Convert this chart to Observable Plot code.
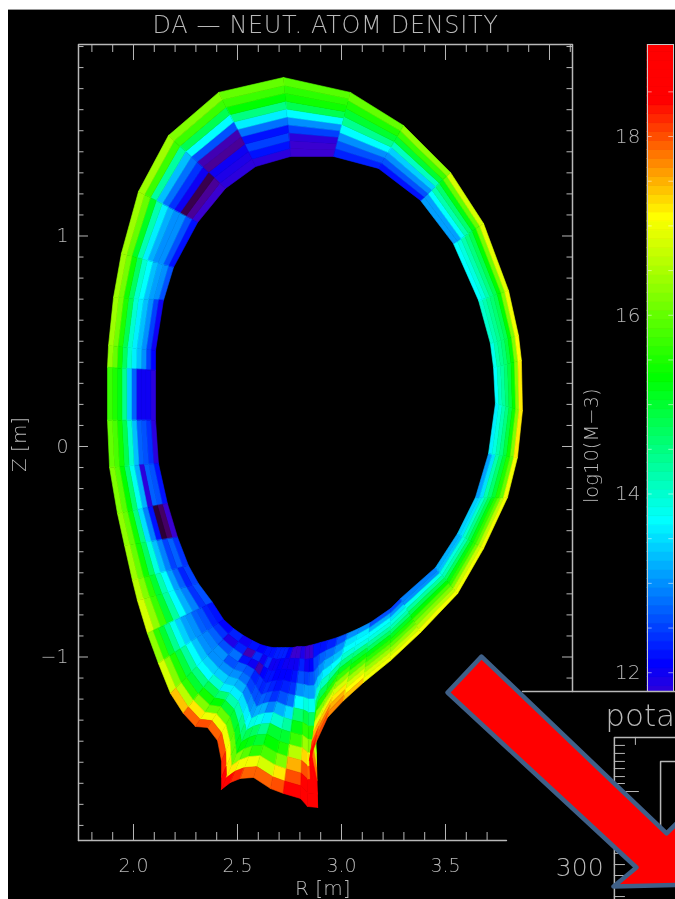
<!DOCTYPE html>
<html><head><meta charset="utf-8">
<script src="https://cdn.jsdelivr.net/npm/d3@7"></script>
<script src="https://cdn.jsdelivr.net/npm/@observablehq/plot@0.6"></script>
<style>
html,body{margin:0;padding:0;background:#fff;width:675px;height:899px;overflow:hidden}
#panel{position:absolute;left:8px;top:9px;width:667px;height:890px;background:#000;border-top:1px solid #999;box-sizing:border-box}
#bar,#main{position:absolute;top:0;left:0}
svg{will-change:transform}
svg text{font-weight:200}
</style></head><body>
<div id="panel"></div><div id="bar"></div><div id="main"></div>
<script>
const title = "DA — NEUT. ATOM DENSITY";
// mesh spokes, plasma side and wall side
const innerR = [2.962,2.755,2.587,2.442,2.308,2.192,2.144,2.106,2.106,2.106,2.120,2.163,2.212,2.264,2.312,2.380,2.433,2.481,2.529,2.572,2.611,2.644,2.668,2.692,2.712,2.731,2.750,2.769,2.788,2.808,2.827,2.846,2.865,2.899,2.933,2.981,3.029,3.082,3.139,3.236,3.284,3.452,3.558,3.644,3.707,3.740,3.731,3.716,3.659,3.538,3.380,3.178];
const innerZ = [1.378,1.378,1.330,1.226,1.064,0.850,0.694,0.456,0.361,0.124,-0.081,-0.271,-0.432,-0.565,-0.651,-0.741,-0.822,-0.865,-0.898,-0.922,-0.941,-0.950,-0.955,-0.955,-0.955,-0.955,-0.955,-0.955,-0.950,-0.950,-0.950,-0.945,-0.941,-0.931,-0.922,-0.907,-0.888,-0.865,-0.836,-0.770,-0.722,-0.575,-0.413,-0.242,-0.033,0.204,0.375,0.489,0.694,0.964,1.169,1.321];
const outerR = [3.043,2.721,2.409,2.168,2.024,1.942,1.904,1.880,1.875,1.875,1.885,1.923,1.957,1.995,2.019,2.067,2.120,2.178,2.240,2.298,2.356,2.404,2.423,2.423,2.423,2.466,2.514,2.577,2.659,2.721,2.803,2.837,2.885,2.851,2.846,2.875,2.933,3.010,3.106,3.236,3.380,3.558,3.683,3.798,3.846,3.870,3.865,3.851,3.803,3.683,3.524,3.298];
const outerZ = [1.682,1.753,1.682,1.477,1.211,0.917,0.708,0.480,0.375,0.124,-0.100,-0.318,-0.470,-0.637,-0.732,-0.888,-1.031,-1.173,-1.268,-1.330,-1.335,-1.397,-1.492,-1.572,-1.629,-1.596,-1.577,-1.572,-1.625,-1.648,-1.672,-1.710,-1.715,-1.587,-1.492,-1.411,-1.287,-1.207,-1.121,-1.017,-0.884,-0.699,-0.485,-0.242,-0.052,0.171,0.409,0.527,0.741,1.059,1.302,1.525];
// log10 density per mesh cell, one row per sector, plasma side first
const density = [
[11.7,11.7,11.8,12.5,13,13.7,14.8,15.4,15.6,15.9],
[11.8,12.2,12.5,12.2,12.8,13.6,14.5,15.3,15.7,16],
[11.8,11.9,12,11.5,11.6,12.6,13.7,14.8,15.7,16.2],
[11.7,11.5,11.2,12,12.4,12.8,13.3,14.3,15.7,16.4],
[12.2,12.6,13,13,13.2,13.6,14.2,15.1,16,16.4],
[12.6,13,13.1,13.3,13.7,14,14.7,15.4,16.1,16.4],
[12,12.5,13,13.3,13.6,14,14.8,15.5,16.1,16.4],
[12.1,12.5,13,13.3,13.6,14,14.7,15.4,16,16.3],
[11.8,12,12,12,12.7,13.4,14.4,15.2,15.5,15.7],
[11.8,12.4,12.6,12.7,13.3,14,14.8,15.4,15.8,16],
[12.2,12.6,12.7,11.8,13.2,13.8,14.6,15.3,15.9,16.2],
[11.7,11.3,11.1,12.2,12.9,13.5,14.5,15.4,16,16.3],
[12.4,12.7,12.5,12.9,13.3,13.9,14.7,15.4,16,16.4],
[12.5,12.3,12.7,13.1,13.7,14.2,15,15.6,16.2,16.6],
[12.6,12.4,12.9,13.2,13.7,14.3,15,15.7,16.3,16.8],
[12.2,12.3,12.6,12.7,13,13.1,13.4,13.8,14.4,15,15.6,16.3],
[12.1,12.4,12.7,12.9,13,13.3,13.7,14.3,14.9,15.5,16.2,16.8],
[12.3,11.9,12.6,13,13,13.4,13.7,14.5,15,15.6,16.6,17.4],
[12,12.3,12.8,12.6,13,13.4,14,14.8,15.4,16.2,17.2,17.9],
[12.2,11.6,12.2,12.7,13,13.3,13.6,14.6,15.3,16,17,18],
[12.1,12.4,12,12.6,12.8,13.2,13.6,14.2,15,16,17,17.9],
[12.2,12,11.6,12.3,12.5,12.9,13.5,14.2,15,15.9,17,18],
[12.2,12.4,12.1,12.4,12.6,13,13.6,14.4,15.1,16,17.1,18.2],
[12.3,12,12.2,12.3,12.6,13.1,13.7,14.6,15.2,16,17.2,18.4],
[12.3,12,12.2,12.4,12.7,13.2,13.9,14.8,15.3,16.2,17.2,18.5],
[12.3,12.1,12.1,12.3,12.6,13.2,13.8,14.7,15.2,15.9,17,18.2],
[12.1,12,12.1,12.2,12.4,12.9,13.6,14.4,15,15.6,17,17.9],
[11.7,12,12.1,12.3,12.6,13.2,14,15,15.3,15.8,16.8,17.9],
[11.7,12,12.2,12.4,12.8,13.5,14.3,15,15.5,16.2,17.2,18],
[11.9,12.3,12.6,13,13.7,14.6,15.2,15.7,16.6,17.5,18,18.5],
[11.7,12,12.5,13.1,13.9,14.9,15.6,16.4,17.3,18,18.4,18.6],
[11.7,12.1,12.6,13.1,13.8,14.7,15.5,16.2,17.1,17.9,18.5,18.9],
[12.2,12.5,12.8,13.3,13.9,14.6,15.3,16,16.8,17.8,18.6,19],
[12.2,12.7,13,13.4,14,14.7,15.4,16.1,16.9,17.8,18.5,18.8],
[12.3,12.8,13.2,13.6,14.1,14.8,15.5,16.2,16.9,17.5,18.1,18.5],
[12.6,13,13.3,13.7,14.3,15,15.6,16.3,16.9,17.4,17.8,18],
[13,13.5,13.7,14,14.5,15.1,15.7,16.3,16.8,17.2,17.5,17.7],
[13,13.6,13.7,13.9,14.5,15,15.4,15.9,16.4,16.8,17.1,17.4],
[12.6,13.2,13.7,13.9,14.3,14.7,15.2,15.6,16,16.4,16.8,17],
[12.5,13,13.5,13.9,14.2,14.6,15.1,15.5,15.9,16.3,16.7,17],
[12.9,13,13.8,14.3,14.8,15.3,15.8,16.2,16.6,17],
[13.2,13.3,13.9,14.2,14.7,15.2,15.6,16.1,16.7,17],
[13.4,13.5,14,14.4,14.8,15.2,15.6,16,16.6,17],
[13.1,13.5,14.2,14.6,15,15.5,16,17],
[13.6,13.9,14.2,14.5,14.9,15.4,16.2,17.2],
[13.7,14.1,14.3,14.6,14.9,15.3,16.2,17.2],
[13.8,14.2,14.4,14.6,14.9,15.3,16.2,17.1],
[14,14.2,14.4,14.6,14.8,15.3,16.2,17],
[13.7,13.9,14.2,14.5,14.8,15.3,16.1,16.9],
[13.1,13.1,13.7,14.2,14.6,15.2,16,16.8],
[12.2,12.6,13,13.4,14.1,15,15.7,16.3],
[12.3,12.6,13,13.7,14.4,15,15.5,16]
];
// colour table of the bar
const colourValues = [11,11.4,11.7,12.1,13.7,15.3,17.1,18.4,19];
const colourRange = ["#200020","#50007a","#3a00d0","#0000ff","#00ffff","#00ff00","#ffff00","#ff0000","#ff0000"];
const barLevels = [11.8,11.9,12,12.1,12.2,12.3,12.4,12.5,12.6,12.7,12.8,12.9,13,13.1,13.2,13.3,13.4,13.5,13.6,13.7,13.8,13.9,14,14.1,14.2,14.3,14.4,14.5,14.6,14.7,14.8,14.9,15,15.1,15.2,15.3,15.4,15.5,15.6,15.7,15.8,15.9,16,16.1,16.2,16.3,16.4,16.5,16.6,16.7,16.8,16.9,17,17.1,17.2,17.3,17.4,17.5,17.6,17.7,17.8,17.9,18,18.1,18.2,18.3,18.4,18.5,18.6,18.7,18.8,18.9,19];
const barTicks = [12,12.5,13,13.5,14,14.5,15,15.5,16,16.5,17,17.5,18,18.5];
const barLabels = [12,14,16,18];
// axes
const rMinor = [1.8,1.9,2.1,2.2,2.3,2.4,2.6,2.7,2.8,2.9,3.1,3.2,3.3,3.4,3.6,3.7,3.8,3.9,4.1];
const rMajor = [2,2.5,3,3.5,4];
const zMinor = [-1.8,-1.7,-1.6,-1.5,-1.4,-1.3,-1.2,-1.1,-0.9,-0.8,-0.7,-0.6,-0.5,-0.4,-0.3,-0.2,-0.1,0.1,0.2,0.3,0.4,0.5,0.6,0.7,0.8,0.9,1.1,1.2,1.3,1.4,1.5,1.6,1.7,1.8,1.9];
const zMajor = [-1,0,1];
const rLabels = [2,2.5,3,3.5];
// overlaid arrow and the corner of the next panel, in the same axes
const arrowR = [3.673,3.510,4.418,4.308,4.75,4.678,4.563];
const arrowZ = [-0.998,-1.169,-2.000,-2.090,-2.08,-1.724,-1.838];
const insetMinorZ = [-1.420,-1.458,-1.496,-1.530,-1.568,-1.601,-1.933,-1.986,-2.038,-2.090,-2.138];

const colorScale = {type:"linear",domain:colourValues,range:colourRange,clamp:true};
const cells = [];
density.forEach((row,s)=>{
  const t = (s+1)%innerR.length, n = row.length;
  row.forEach((v,k)=>{
    const p = (i,f)=>[innerR[i]+(outerR[i]-innerR[i])*f, innerZ[i]+(outerZ[i]-innerZ[i])*f];
    [p(s,k/n),p(t,k/n),p(t,(k+1)/n),p(s,(k+1)/n)].forEach(q=>cells.push({id:s*100+k,R:q[0],Z:q[1],v}));
  });
});

const gray="#b8b8b8", font="'DejaVu Sans','Liberation Sans',sans-serif";
const Rl=1.7356,Rr=4.1106,Zt=1.9097,Zb=-1.8717;
const spine=(a,b)=>Plot.line(a.map((d,i)=>({R:d,Z:b[i]})),{x:"R",y:"Z",stroke:gray,strokeWidth:1.5});

const main = Plot.plot({
  width:675,height:899,marginLeft:78,marginRight:103,marginTop:44,marginBottom:59,
  style:{background:"transparent",color:"#b8b8b8",fontFamily:font,fontSize:"19px"},
  x:{domain:[Rl,Rr]},y:{domain:[Zb,Zt]},color:colorScale,
  marks:[
    Plot.line(cells,{x:"R",y:"Z",z:"id",fill:"v",stroke:"v",strokeWidth:0.6,curve:"linear-closed"}),
    spine([Rl,Rl,Rr,Rr],[Zb,Zt,Zt,-1.164]),
    spine([Rl,3.793],[Zb,Zb]),
    Plot.ruleX(rMinor,{x:d=>d,y1:Zt,y2:Zt-0.038,stroke:gray}),
    Plot.ruleX(rMajor,{x:d=>d,y1:Zt,y2:Zt-0.076,stroke:gray}),
    Plot.ruleX(rMinor.filter(d=>d<3.75),{x:d=>d,y1:Zb,y2:Zb+0.038,stroke:gray}),
    Plot.ruleX(rMajor.filter(d=>d<3.75),{x:d=>d,y1:Zb,y2:Zb+0.076,stroke:gray}),
    Plot.ruleY(zMinor,{y:d=>d,x1:Rl,x2:Rl+0.0265,stroke:gray}),
    Plot.ruleY(zMajor,{y:d=>d,x1:Rl,x2:Rl+0.048,stroke:gray}),
    Plot.ruleY(zMinor.filter(d=>d>-1.15),{y:d=>d,x1:Rr,x2:Rr-0.0265,stroke:gray}),
    Plot.ruleY(zMajor.filter(d=>d>-1.15),{y:d=>d,x1:Rr,x2:Rr-0.048,stroke:gray}),
    Plot.axisX({ticks:rLabels,tickSize:0,tickPadding:18,tickFormat:".1f",label:null}),
    Plot.axisY({ticks:zMajor,tickSize:0,tickPadding:10,tickFormat:d=>d<0?"−"+(-d):""+d,label:null}),
    Plot.text(["R [m]"],{x:[2.91],y:[-2.098],text:d=>d,fontSize:20,fill:gray}),
    Plot.text(["Z [m]"],{x:[1.452],y:[0.01],text:d=>d,fontSize:20,rotate:-90,fill:gray}),
    Plot.text([title],{x:[2.923],y:[2.0],text:d=>d,fontSize:24,fill:gray,className:"plot-title"}),
    // inset corner
    spine([3.87,4.62],[-1.164,-1.164]),
    spine([4.312,4.312,4.62],[-2.16,-1.382,-1.382]),
    spine([4.534,4.534,4.62],[-1.834,-1.496,-1.496]),
    Plot.ruleX([4.413],{x:d=>d,y1:-1.382,y2:-1.42,stroke:gray}),
    Plot.ruleY(insetMinorZ,{y:d=>d,x1:4.312,x2:4.365,stroke:gray}),
    Plot.ruleY([-1.639],{y:d=>d,x1:4.312,x2:4.432,stroke:gray}),
    Plot.text(["pota"],{x:[4.268],y:[-1.28],text:d=>d,fontSize:31,textAnchor:"start",fill:gray}),
    Plot.text(["300"],{x:[4.26],y:[-2.0],text:d=>d,fontSize:25,textAnchor:"end",fill:gray}),
    // arrow
    Plot.line(arrowR.map((d,i)=>({R:d,Z:arrowZ[i]})),{x:"R",y:"Z",fill:"#ff0000",stroke:"#3f6088",strokeWidth:4.5,curve:"linear-closed"})
  ]
});
main.querySelectorAll(".plot-title text, text.plot-title").forEach(t=>t.style.letterSpacing="0.65px");
document.getElementById("main").append(main);

const bar = Plot.plot({
  width:103,height:647,marginLeft:75,marginRight:2,marginTop:0,marginBottom:0,
  style:{background:"transparent",color:"#b8b8b8",fontFamily:font,fontSize:"20px"},
  x:{domain:[0,1],axis:null},y:{domain:[11.79,19.03]},color:colorScale,
  marks:[
    Plot.rect(barLevels,{y1:d=>d-0.05,y2:d=>d+0.05,fill:d=>d,stroke:d=>d,strokeWidth:0.8}),
    Plot.ruleY(barTicks,{y:d=>d,x1:0,x2:0.18,stroke:"#fff",strokeOpacity:.5}),
    Plot.ruleY(barTicks,{y:d=>d,x1:0.82,x2:1,stroke:"#fff",strokeOpacity:.5}),
    Plot.axisY({ticks:barLabels,tickSize:0,tickPadding:7,tickFormat:d=>""+d,label:null}),
    Plot.text(["log10(M−3)"],{x:[-2.13],y:[14.54],text:d=>d,rotate:-90,fontSize:19.5,fill:gray}),
    Plot.frame({stroke:"#c8c8c8",strokeWidth:1})
  ]
});
bar.style.position="absolute";bar.style.left="572px";bar.style.top="44px";bar.style.maxWidth="none";
document.getElementById("bar").append(bar);
</script></body></html>
